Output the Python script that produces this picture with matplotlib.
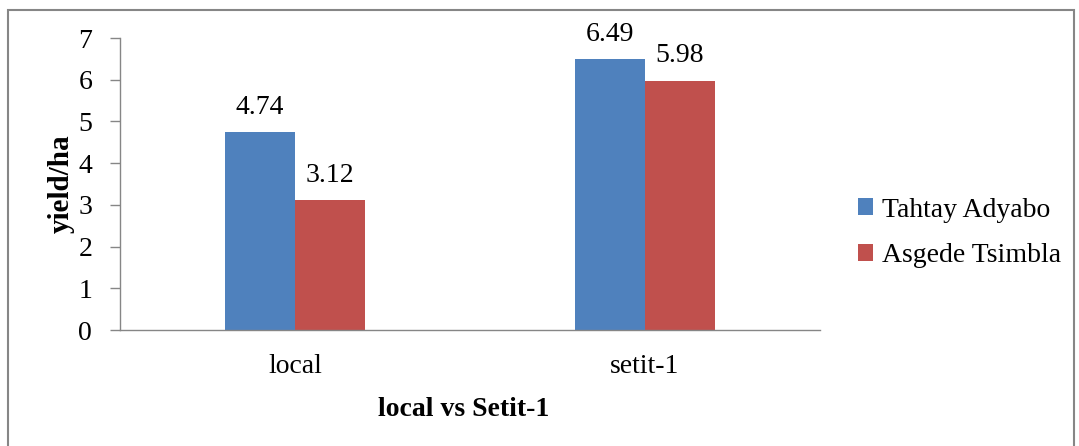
import matplotlib
matplotlib.use("Agg")
import matplotlib.pyplot as plt
import numpy as np
from matplotlib.patches import Rectangle

categories = ["local", "setit-1"]
series_names = ["Tahtay Adyabo", "Asgede Tsimbla"]
tahtay = [4.74, 6.49]
asgede = [3.12, 5.98]
label_tahtay = ["4.74", "6.49"]
label_asgede = ["3.12", "5.98"]
yticks = [0, 1, 2, 3, 4, 5, 6, 7]
colors = ["#4F81BD", "#C0504D"]

plt.rcParams['font.family'] = ['Liberation Serif', 'DejaVu Serif']
FS = 20

fig = plt.figure(figsize=(10.79, 4.46), dpi=100)
fig.patches.append(Rectangle((8/1079, -0.1), (1074-8)/1079, (1 - 10/446) + 0.1,
                             transform=fig.transFigure, fill=False,
                             edgecolor="#868686", linewidth=1.5, zorder=0))

ax = fig.add_axes([120/1079, 1-330/446, 700/1079, (330-38)/446])
x = np.arange(len(categories))
w = 0.2
b1 = ax.bar(x - w/2, tahtay, w, color=colors[0], label=series_names[0])
b2 = ax.bar(x + w/2, asgede, w, color=colors[1], label=series_names[1])

for bars, labs in ((b1, label_tahtay), (b2, label_asgede)):
    for r, t in zip(bars, labs):
        ax.annotate(t, (r.get_x() + r.get_width()/2, r.get_height()),
                    xytext=(0, 13), textcoords="offset points",
                    ha="center", va="baseline", fontsize=FS)

ax.set_xlim(-0.5, 1.5)
ax.set_ylim(0, 7)
ax.set_yticks(yticks)
ax.set_xticks(x)
ax.set_xticklabels(categories, fontsize=FS)
ax.tick_params(axis='y', labelsize=FS, length=7, color="#868686", width=1, pad=13)
ax.tick_params(axis='x', length=0, pad=17)
for s in ("top", "right"):
    ax.spines[s].set_visible(False)
for s in ("left", "bottom"):
    ax.spines[s].set_color("#868686")
    ax.spines[s].set_linewidth(1)

ax.set_ylabel("yield/ha", fontsize=21, fontweight="bold")
ax.yaxis.set_label_coords((61 - 120)/700, 0.5)
ax.yaxis.label.set_va("center")
ax.set_xlabel("local vs Setit-1", fontsize=FS, fontweight="bold")
ax.xaxis.set_label_coords((464 - 120)/700, -(410 - 330)/292)
ax.xaxis.label.set_va("center")

fig.legend(loc="center left", bbox_to_anchor=(833/1079, 1-233/446), frameon=False,
           fontsize=FS, handlelength=0.55, handleheight=0.55, handletextpad=0.3,
           labelspacing=0.75)

fig.savefig("out.png", dpi=100)
